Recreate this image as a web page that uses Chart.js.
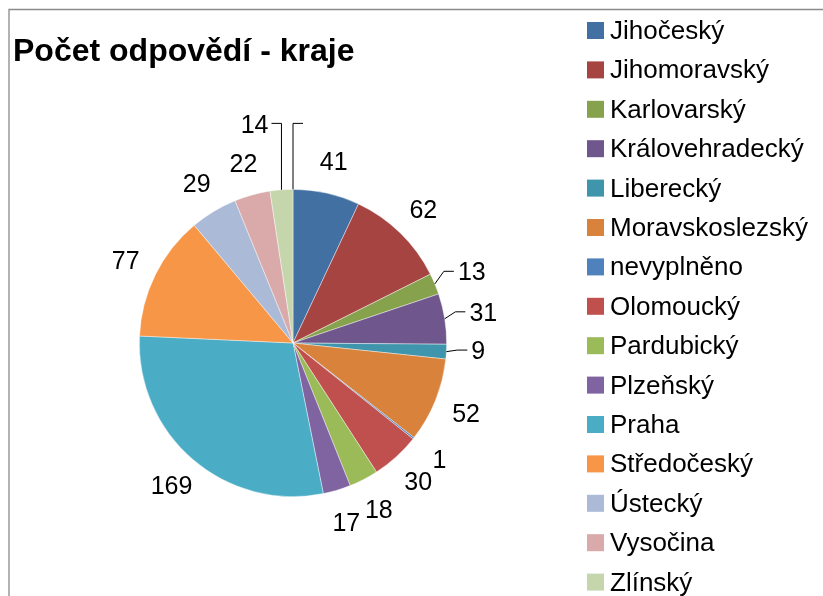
<!DOCTYPE html>
<html>
<head>
<meta charset="utf-8">
<script src="https://cdn.jsdelivr.net/npm/chart.js@4/dist/chart.umd.min.js"></script>
<style>
  html, body { margin: 0; padding: 0; background: #fff; }
  canvas { display: block; }
</style>
</head>
<body>
<canvas id="kraje" width="823" height="596"></canvas>
<script>
const title = 'Počet odpovědí - kraje';

const regions = [
  'Jihočeský', 'Jihomoravský', 'Karlovarský', 'Královehradecký', 'Liberecký',
  'Moravskoslezský', 'nevyplněno', 'Olomoucký', 'Pardubický', 'Plzeňský',
  'Praha', 'Středočeský', 'Ústecký', 'Vysočina', 'Zlínský', ''
];

const counts = [41, 62, 13, 31, 9, 52, 1, 30, 18, 17, 169, 77, 29, 22, 14, 0];

const colors = [
  '#4270A3', '#A64441', '#86A24C', '#6F568C', '#3F95AC',
  '#D8823B', '#4F81BD', '#C0504D', '#9BBB59', '#8064A2',
  '#4BACC6', '#F79646', '#AABAD7', '#D9AAA9', '#C6D6AC', '#4270A3'
];

// small slices whose label Excel pushed out on a leader line
const leaders = { 2: 'side', 3: 'side', 4: 'side', 14: 'up', 15: 'up' };

const FONT = '"Liberation Sans", Arial, sans-serif';

const decor = {
  id: 'decor',
  beforeDraw: (chart) => {
    const { ctx } = chart;
    ctx.save();
    ctx.fillStyle = '#fff';
    ctx.fillRect(0, 0, chart.width, chart.height);
    // chart frame, cut off on the right and bottom
    ctx.strokeStyle = '#8a8a8a';
    ctx.lineWidth = 1.3;
    ctx.beginPath();
    ctx.moveTo(9, chart.height);
    ctx.lineTo(9, 9.5);
    ctx.lineTo(chart.width, 9.5);
    ctx.stroke();
    ctx.restore();
  },
  afterDatasetsDraw: (chart) => {
    const { ctx } = chart;
    const arcs = chart.getDatasetMeta(0).data;
    ctx.save();

    // title
    ctx.fillStyle = '#000';
    ctx.font = 'bold 32px ' + FONT;
    ctx.textAlign = 'left';
    ctx.textBaseline = 'alphabetic';
    ctx.fillText(title, 13, 61);

    // data labels
    ctx.font = '25px ' + FONT;
    ctx.strokeStyle = '#000';
    ctx.lineWidth = 1;
    arcs.forEach((arc, i) => {
      const p = arc.getProps(['x', 'y', 'startAngle', 'endAngle', 'outerRadius'], true);
      const mid = (p.startAngle + p.endAngle) / 2;
      const cos = Math.cos(mid), sin = Math.sin(mid);
      const r = p.outerRadius;
      const text = counts[i] ? String(counts[i]) : '';
      const ex = p.x + cos * r, ey = p.y + sin * r;
      const kind = leaders[i];
      if (kind === 'side') {
        const ax = p.x + cos * (r + 25), ay = p.y + sin * (r + 25) - 3;
        ctx.beginPath();
        ctx.moveTo(ex, ey);
        ctx.lineTo(ax - 14, ay);
        ctx.lineTo(ax - 4, ay);
        ctx.stroke();
        ctx.textAlign = 'left';
        ctx.fillText(text, ax, ay + 9);
      } else if (kind === 'up') {
        const left = cos < -0.01;
        const ty = p.y - r - 66;
        const hx = left ? ex - 10 : ex + 10;
        ctx.beginPath();
        ctx.moveTo(ex, ey);
        ctx.lineTo(ex, ty);
        ctx.lineTo(hx, ty);
        ctx.stroke();
        ctx.textAlign = left ? 'right' : 'left';
        ctx.fillText(text, left ? hx - 3 : hx + 3, ty + 10);
      } else {
        const lx = p.x + cos * (r + 33), ly = p.y + sin * (r + 33);
        ctx.textAlign = 'center';
        ctx.fillText(text, lx, ly + 9);
      }
    });

    // legend
    ctx.font = '26px ' + FONT;
    ctx.textAlign = 'left';
    regions.forEach((name, i) => {
      if (!name) return;
      const cy = 30.5 + i * 39.4;
      ctx.fillStyle = colors[i];
      ctx.fillRect(587, cy - 8.5, 17, 17);
      ctx.fillStyle = '#000';
      ctx.fillText(name, 610, cy + 8.5);
    });

    ctx.restore();
  }
};

new Chart(document.getElementById('kraje'), {
  type: 'pie',
  data: {
    labels: regions,
    datasets: [{
      data: counts,
      backgroundColor: colors,
      borderColor: 'rgba(255,255,255,0.55)',
      borderWidth: 0.75
    }]
  },
  options: {
    responsive: false,
    animation: false,
    devicePixelRatio: 1,
    layout: { padding: { left: 139, top: 189, right: 376, bottom: 99 } },
    plugins: {
      legend: { display: false },
      tooltip: { enabled: false },
      title: { display: false }
    }
  },
  plugins: [decor]
});
</script>
</body>
</html>
